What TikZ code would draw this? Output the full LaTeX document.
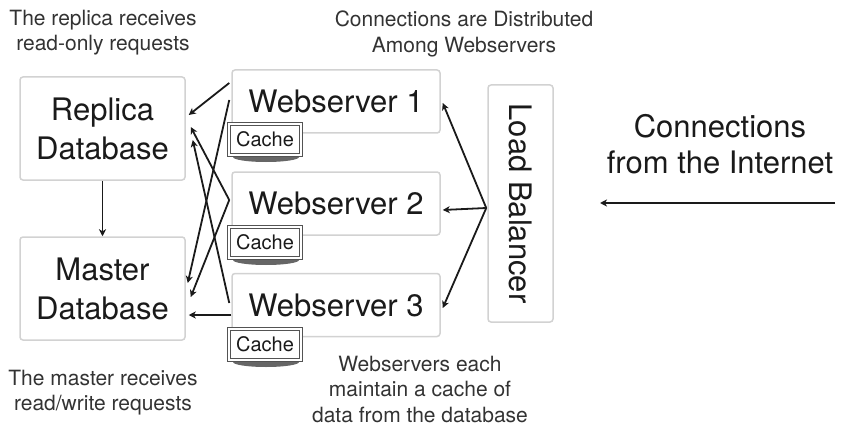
\documentclass[tikz,border=0pt]{standalone}
\usepackage{fontspec}
\setmainfont{TeX Gyre Heros}
\usetikzlibrary{arrows.meta,calc}
\definecolor{boxline}{HTML}{D2D2D2}
\definecolor{ink}{HTML}{1A1A1A}
\definecolor{note}{HTML}{333333}
\begin{document}
\begin{tikzpicture}[x=1pt,y=-1pt,
  box/.style={draw=boxline,line width=1.5pt,rounded corners=3pt,fill=white,inner sep=0pt,text=ink,align=center},
  big/.style={font=\fontsize{31}{39}\selectfont},
  notetext/.style={font=\fontsize{21}{25.5}\selectfont,text=note,align=center,inner sep=0pt,anchor=north},
  conn/.style={draw=ink,line width=1.8pt,-{Stealth[length=7pt,width=7pt,inset=2pt]}},
  cachebox/.style={draw=ink!75,line width=0.8pt,double=white,double distance=2.2pt,fill=white,minimum width=72pt,minimum height=31pt,inner sep=0pt,font=\fontsize{20}{24}\selectfont,text=ink},
  shade/.style={fill=black!60},
]
\useasboundingbox (0,0) rectangle (843,425);

% boxes
\node[box,big,minimum width=165pt,minimum height=103pt] (rep) at (102.5,128.5) {Replica\\Database};
\node[box,big,minimum width=165pt,minimum height=103pt] (mas) at (102.5,288.5) {Master\\Database};
\node[box,big,minimum width=208pt,minimum height=63pt] (ws1) at (336,101.5) {Webserver 1};
\node[box,big,minimum width=208pt,minimum height=63pt] (ws2) at (336,203.5) {Webserver 2};
\node[box,big,minimum width=208pt,minimum height=63pt] (ws3) at (336,305) {Webserver 3};
\node[box,big,rotate=-90,minimum width=237pt,minimum height=65pt] (lb) at (520.5,203.5) {Load Balancer};

% cache shadows and labels
\fill[shade] (266,157) ellipse [x radius=33pt, y radius=5pt];
\fill[shade] (266,260) ellipse [x radius=33pt, y radius=5pt];
\fill[shade] (266,362) ellipse [x radius=33pt, y radius=5pt];
\node[cachebox] (c1) at (265,139.5) {Cache};
\node[cachebox] (c2) at (265,242.5) {Cache};
\node[cachebox] (c3) at (265,344.5) {Cache};

% connectors webservers -> databases
\draw[conn] ($(ws1.west)+(-2,-18.5)$) -- ($(rep.east)+(3,-13.5)$);
\draw[conn] ($(ws1.west)+(-2,-1.5)$) -- ($(mas.east)+(2,-5.5)$);
\draw[conn] ($(ws2.west)+(-2,-3.5)$) -- ($(rep.east)+(5,-1.5)$);
\draw[conn] ($(ws2.west)+(-2,-3.5)$) -- ($(mas.east)+(5,8.5)$);
\draw[conn] ($(ws3.west)+(-2,-2)$) -- ($(rep.east)+(7,11.5)$);
\draw[conn] ($(ws3.west)+(0,10)$) -- ($(mas.east)+(3,26.5)$);
\draw[conn] (rep.south) -- (mas.north);

% load balancer -> webservers
\draw[conn] ($(lb.south)+(-1,4.5)$) -- ($(ws1.east)+(2,1.5)$);
\draw[conn] ($(lb.south)+(-1,4.5)$) -- ($(ws2.east)+(2,6.5)$);
\draw[conn] ($(lb.south)+(-1,4.5)$) -- ($(ws3.east)+(2,3)$);

% internet
\coordinate (inet) at (835,203);
\coordinate (inetend) at (600,203);
\draw[conn] (inet) -- (inetend);
\node[font=\fontsize{31}{36}\selectfont,text=ink,align=center,inner sep=0pt,anchor=north] (internet) at (720,114) {Connections\\from the Internet};

% notes
\node[notetext] (n1) at (103,9.5) {The replica receives\\read-only requests};
\node[notetext] (n2) at (464,11) {Connections are Distributed\\Among Webservers};
\node[notetext] (n3) at (103,369.5) {The master receives\\read/write requests};
\node[notetext] (n4) at (420,355.5) {Webservers each\\maintain a cache of\\data from the database};
\end{tikzpicture}
\end{document}
